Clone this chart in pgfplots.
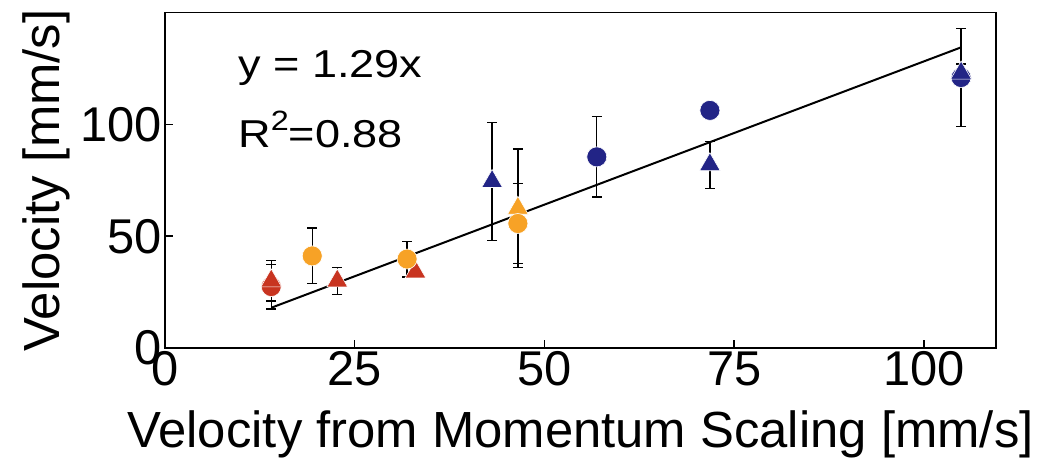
\documentclass[border=0pt]{standalone}
\usepackage{fontspec}
\setmainfont{Liberation Sans}
\usepackage{graphicx}
\usepackage{pgfplots}
\pgfplotsset{compat=1.18}
\usepackage{pgfplotstable}

\definecolor{cred}{RGB}{200,52,32}
\definecolor{corange}{RGB}{247,162,38}
\definecolor{cblue}{RGB}{34,36,134}

% x  y  err
\pgfplotstableread{
x y e
14 27.5 10
}\redcirc
\pgfplotstableread{
x y e
14 30 9
22.7 30 6
33 34 0
}\redtri
\pgfplotstableread{
x y e
19.4 41.2 12.5
31.9 39.8 8
46.5 55.7 18
}\orcirc
\pgfplotstableread{
x y e
46.5 62.5 26.5
}\ortri
\pgfplotstableread{
x y e
56.9 85.5 18
71.8 106.3 0
104.9 121 22
}\bluecirc
\pgfplotstableread{
x y e
43.1 74.5 26.5
71.8 82 10.5
104.9 123 4
}\bluetri

\begin{document}
\begin{tikzpicture}
\useasboundingbox (-165bp,-112bp) rectangle (876bp,348bp);
\begin{axis}[
    at={(0,0)}, anchor=south west,
    scale only axis,
    width=831bp, height=335.3bp,
    xmin=0, xmax=109.5, ymin=0, ymax=150,
    xtick={0,25,50,75,100}, ytick={0,50,100},
    tick pos=left, tick align=inside,
    major tick length=8bp,
    axis line style={line width=1.5bp},
    tick style={black, line width=1.5bp},
    /pgf/number format/assume math mode=true,
    tick label style={font=\fontsize{49}{54}\selectfont},
    label style={font=\fontsize{51}{56}\selectfont},
    xlabel={Velocity from Momentum Scaling [mm/s]},
    ylabel={Velocity [mm/s]},
    xlabel style={at={(axis description cs:0.5,-0.2982)}, anchor=base},
    ylabel style={at={(axis description cs:-0.1264,0.5)}, anchor=base},
    errbar/.style={draw=none, mark=none, forget plot,
        error bars/.cd, y dir=both, y explicit,
        error bar style={black, line width=1.3bp},
        error mark options={black, rotate=90, mark size=5bp, line width=1.3bp}},
    ccirc/.style={only marks, mark=*, mark size=10bp,
        mark options={draw=white, line width=0.6bp, fill=#1}},
    ctri/.style={only marks, mark=triangle*, mark size=12bp,
        mark options={draw=white, line width=0.6bp, fill=#1}},
]
% error bars first
\addplot[errbar] table[x=x, y=y, y error=e] {\redcirc};
\addplot[errbar] table[x=x, y=y, y error=e] {\redtri};
\addplot[errbar] table[x=x, y=y, y error=e] {\orcirc};
\addplot[errbar] table[x=x, y=y, y error=e] {\ortri};
\addplot[errbar] table[x=x, y=y, y error=e] {\bluecirc};
\addplot[errbar] table[x=x, y=y, y error=e] {\bluetri};
% markers
\addplot[ccirc=cred] table[x=x, y=y] {\redcirc};
\addplot[ctri=cred] table[x=x, y=y] {\redtri};
\addplot[ctri=corange] table[x=x, y=y] {\ortri};
\addplot[ccirc=corange] table[x=x, y=y] {\orcirc};
\addplot[ccirc=cblue] table[x=x, y=y] {\bluecirc};
\addplot[ctri=cblue] table[x=x, y=y] {\bluetri};
% fit y = 1.29x
\addplot[black, line width=2bp] coordinates {(14,18) (104.9,134.5)};
\node[anchor=base west, font=\fontsize{39}{44}\selectfont] at (axis cs:9.2,121) {\scalebox{1.16}[1]{y = 1.29x}};
\node[anchor=base west, font=\fontsize{39}{44}\selectfont] at (axis cs:9.2,89.7) {\scalebox{1.16}[1]{R\raisebox{0.45em}{\fontsize{28}{30}\selectfont 2}=0.88}};
\end{axis}
\end{tikzpicture}
\end{document}
